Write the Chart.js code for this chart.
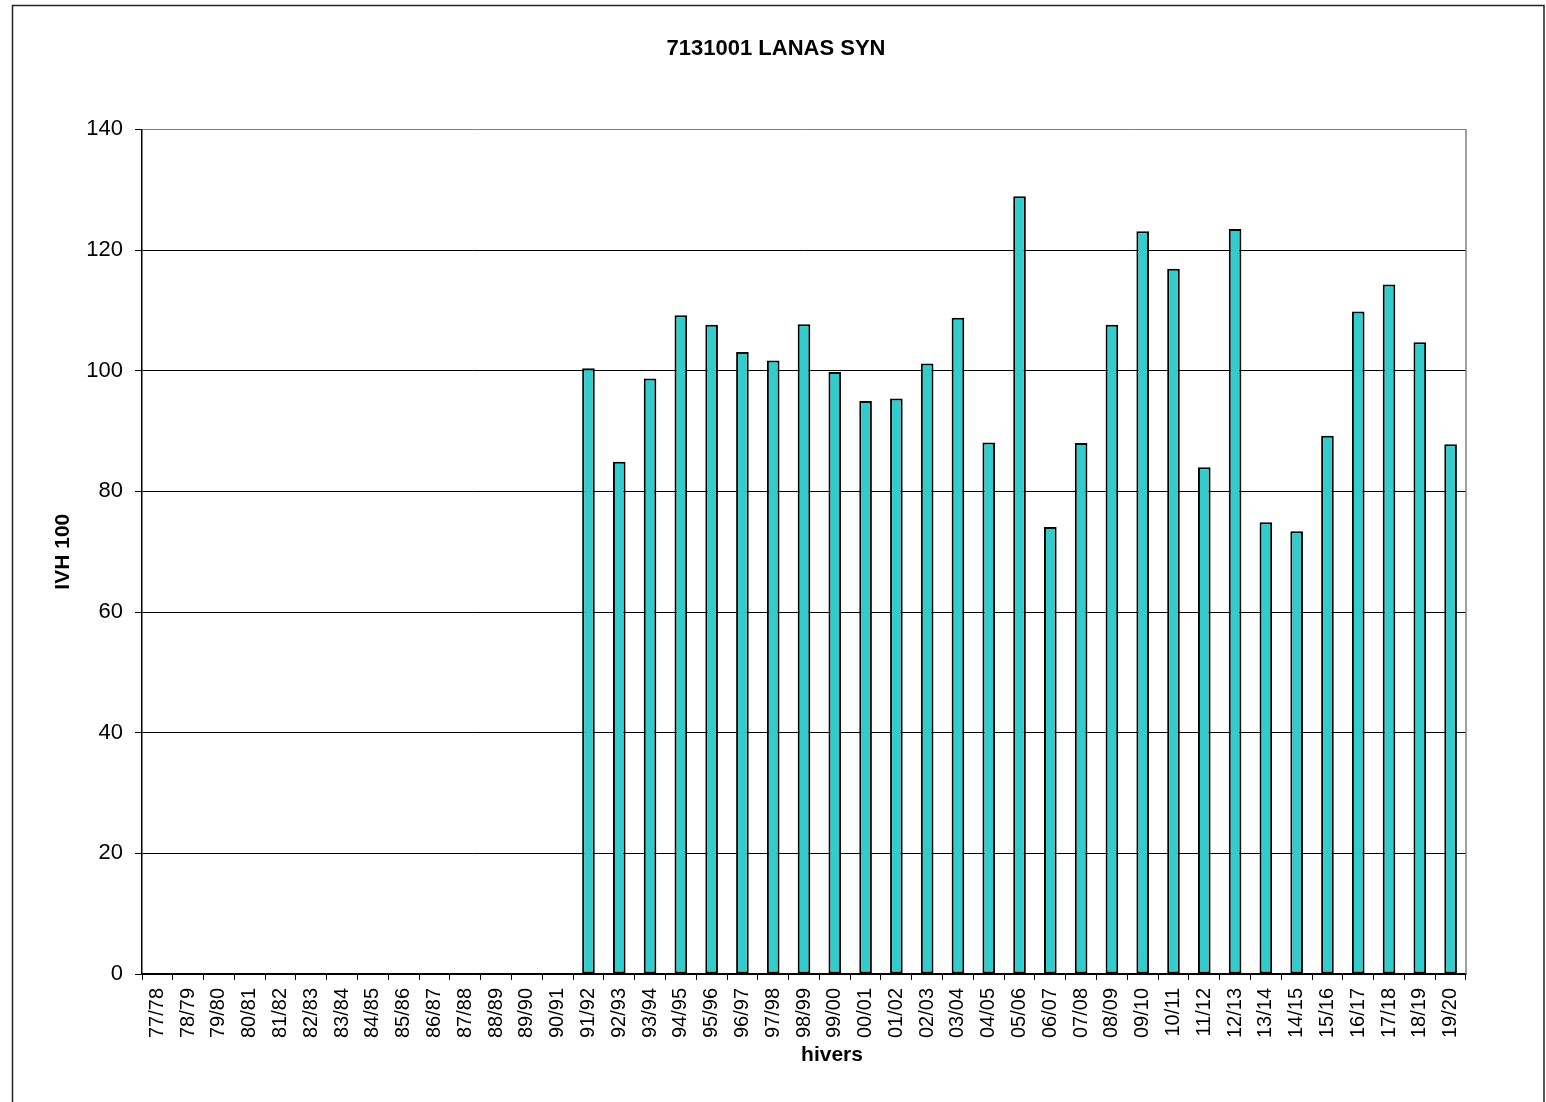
<!DOCTYPE html>
<html>
<head>
<meta charset="utf-8">
<script src="https://cdn.jsdelivr.net/npm/chart.js@4/dist/chart.umd.min.js"></script>
<style>
  html, body { margin: 0; padding: 0; background: #fff; }
  #wrap { width: 1546px; height: 1102px; }
</style>
</head>
<body>
<div id="wrap"><canvas id="myChart" width="1546" height="1102"></canvas></div>
<script>
// winters (categories)
var winters = ['77/78','78/79','79/80','80/81','81/82','82/83','83/84','84/85','85/86','86/87',
  '87/88','88/89','89/90','90/91','91/92','92/93','93/94','94/95','95/96','96/97',
  '97/98','98/99','99/00','00/01','01/02','02/03','03/04','04/05','05/06','06/07',
  '07/08','08/09','09/10','10/11','11/12','12/13','13/14','14/15','15/16','16/17',
  '17/18','18/19','19/20'];

// IVH 100 values, no data before 91/92
var ivh100 = [null,null,null,null,null,null,null,null,null,null,
  null,null,null,null,100.4,84.9,98.7,109.2,107.6,103.1,
  101.7,107.7,99.8,95.0,95.4,101.2,108.8,88.1,128.9,74.1,
  88.0,107.6,123.1,116.9,84.0,123.5,74.9,73.4,89.2,109.8,
  114.3,104.7,87.8];

var yMin = 0;
var yMax = 140;
var yStep = 20;

var FONT = "'Liberation Sans', Arial, sans-serif";

// outer frame, gray right edge of the plot area, and the x axis title
// (placed a bit right of centre, like the original)
var framePlugin = {
    id: 'frame',
    afterDraw: function(chart) {
        var c = chart.ctx;
        var a = chart.chartArea;
        c.save();
        c.strokeStyle = '#808080';
        c.lineWidth = 1.5;
        c.beginPath();
        c.moveTo(a.right, a.top);
        c.lineTo(a.right, a.bottom);
        c.stroke();
        c.strokeStyle = '#222';
        c.lineWidth = 1.5;
        c.strokeRect(12.5, 5.5, 1531.5, 1200);

        c.fillStyle = '#000';
        c.font = 'bold 21px ' + FONT;
        c.textAlign = 'center';
        c.textBaseline = 'middle';
        c.fillText('hivers', (a.left + a.right) / 2 + 28, 1055);
        c.restore();
    }
};

var ctx = document.getElementById('myChart').getContext('2d');
var chart = new Chart(ctx, {
    type: 'bar',
    data: {
        labels: winters,
        datasets: [{
            label: 'IVH 100',
            data: ivh100,
            backgroundColor: '#33CCCC',
            borderColor: '#000000',
            borderWidth: 2,
            borderSkipped: false,
            categoryPercentage: 1.0,
            barPercentage: 0.41
        }]
    },
    options: {
        responsive: false,
        animation: false,
        layout: { padding: { left: 6, right: 0, top: 0, bottom: 0 } },
        plugins: {
            legend: { display: false },
            tooltip: { enabled: false },
            title: {
                display: true,
                text: '7131001 LANAS SYN',
                color: '#000',
                font: { family: FONT, size: 22, weight: 'bold' },
                padding: { top: 36, bottom: 67 }
            }
        },
        scales: {
            x: {
                afterFit: function(scale) { scale.height = 128; },
                grid: {
                    display: true,
                    drawOnChartArea: false,
                    drawTicks: true,
                    tickLength: 6,
                    tickColor: '#000',
                    offset: true
                },
                border: { display: true, color: '#000', width: 1.5 },
                ticks: {
                    autoSkip: false,
                    maxRotation: 90,
                    minRotation: 90,
                    padding: 8,
                    color: '#000',
                    font: { family: FONT, size: 20 }
                },
                title: { display: false }
            },
            y: {
                min: yMin,
                max: yMax,
                afterFit: function(scale) { scale.width = 136; },
                grid: {
                    color: function(c) { return c.tick && c.tick.value === yMax ? '#808080' : '#000'; },
                    lineWidth: 1,
                    tickLength: 7,
                    tickColor: '#000'
                },
                border: { display: true, color: '#000', width: 1.5 },
                ticks: {
                    stepSize: yStep,
                    padding: 12,
                    color: '#000',
                    font: { family: FONT, size: 22 }
                },
                title: {
                    display: true,
                    text: 'IVH 100',
                    color: '#000',
                    font: { family: FONT, size: 21, weight: 'bold' },
                    padding: { top: 45, bottom: 0 }
                }
            },
            // empty right-hand box so the plot area ends where the reference does
            yRight: {
                position: 'right',
                display: true,
                min: yMin,
                max: yMax,
                afterFit: function(scale) { scale.width = 80; },
                grid: { display: false },
                border: { display: false },
                ticks: { display: false }
            }
        }
    },
    plugins: [framePlugin]
});
</script>
</body>
</html>
